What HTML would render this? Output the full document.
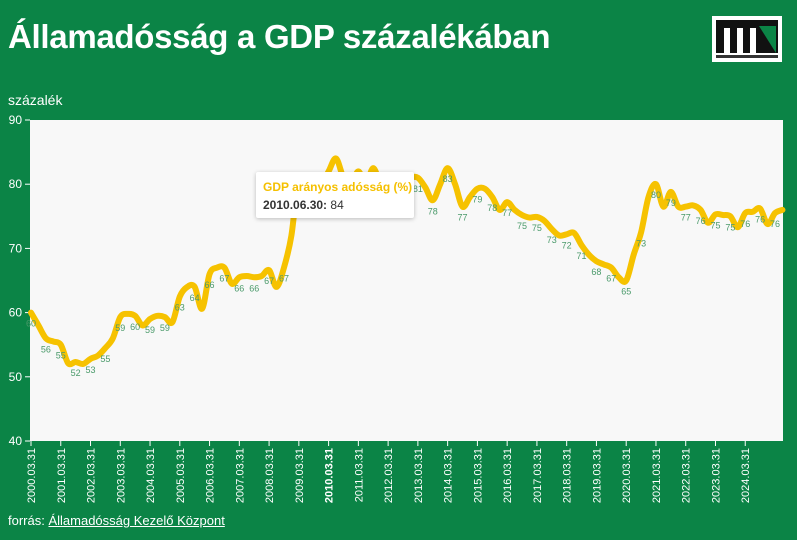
<!DOCTYPE html>
<html><head><meta charset="utf-8"><style>
body{margin:0;width:797px;height:540px;background:#0b8446;overflow:hidden;font-family:"Liberation Sans",sans-serif;position:relative}
#title{position:absolute;left:8px;top:18px;font-size:33px;font-weight:bold;color:#fff;letter-spacing:-0.3px}
#unit{position:absolute;left:8px;top:92px;font-size:14px;color:#fff}
#src{position:absolute;left:8px;top:513px;font-size:13px;color:#fff}
#src a{color:#fff;text-decoration:underline}
#logo{position:absolute;left:712px;top:16px;width:70px;height:46px;background:#fff}
#tip{position:absolute;left:256px;top:172px;width:158px;height:46px;background:#fff;box-shadow:0 1px 4px rgba(0,0,0,.25);border-radius:2px}
#tip .h{position:absolute;left:7px;top:8px;font-size:12px;font-weight:bold;color:#f5c000;white-space:nowrap}
#tip .v{position:absolute;left:7px;top:26px;font-size:12px;color:#333;white-space:nowrap}
</style></head><body>
<div id="title">Államadósság a GDP százalékában</div>
<div id="logo"><svg width="70" height="46"><rect x="4" y="4" width="62" height="33" fill="#111"/><rect x="12" y="12" width="6" height="25" fill="#fff"/><rect x="25" y="12" width="6" height="25" fill="#fff"/><rect x="38" y="12" width="6" height="25" fill="#fff"/><polygon points="47,10 64,10 64,37" fill="#0b8446"/><rect x="4" y="39" width="62" height="3" fill="#333"/></svg></div>
<div id="unit">százalék</div>
<svg id="chart" width="797" height="540" style="position:absolute;left:0;top:0"></svg>
<div id="tip"><div class="h">GDP arányos adósság (%)</div><div class="v"><b>2010.06.30:</b> 84</div></div>
<div id="src">forrás: <a>Államadósság Kezelő Központ</a></div>
<script>
const values=[60,58,56,55.5,55,52.1,52.3,52,52.8,53.3,54.5,56,59.3,59.8,59.5,58,59,59.5,59.3,58.5,62.5,64,64,60.6,66,67,67,64.5,65.5,65.7,65.5,65.7,66.6,64,67,72,81,79,80,80,82,84,81,80,82,80,82.5,80,80,80,80,81,81,79.5,77.5,80,82.5,80,76.5,78,79.3,79.3,78,76,77.2,76,75.2,74.8,74.9,74.3,73,72,72.2,72.4,70.5,69,68,67.5,67,65.5,65,69,72.5,78,80,76.5,78.8,76.5,76.5,76.7,76,74,75.3,75.2,75,73.3,75.5,75.7,76.2,73.8,75.5,76];
const yTicks=[40,50,60,70,80,90];
const years=[2000,2001,2002,2003,2004,2005,2006,2007,2008,2009,2010,2011,2012,2013,2014,2015,2016,2017,2018,2019,2020,2021,2022,2023,2024];
const NS='http://www.w3.org/2000/svg';
const svg=document.getElementById('chart');
const L=30,R=783,T=120,B=441;
const x=i=>31+i*7.44;
const y=v=>B-(v-40)/50*(B-T);
function mk(t,a,p){const e=document.createElementNS(NS,t);for(const k in a)e.setAttribute(k,a[k]);(p||svg).appendChild(e);return e;}
const bg=mk('rect',{x:L,y:T,width:R-L,height:B-T,fill:'#f8f8f8'});


yTicks.forEach(v=>{
 const t=mk('text',{x:22,y:y(v)+4,'text-anchor':'end',fill:'#fff','font-size':12,'font-family':'Liberation Sans'});t.textContent=v;
 
 
 mk('line',{x1:L-5,x2:L,y1:y(v),y2:y(v),stroke:'#fff'});
});
years.forEach((yr,k)=>{
 const xx=x(k*4);
 mk('line',{x1:xx,x2:xx,y1:B,y2:B+5,stroke:'#fff'});
 const t=mk('text',{transform:`translate(${xx+4},${B+7}) rotate(-90)`,'text-anchor':'end',fill:'#fff','font-size':11,'font-family':'Liberation Sans','font-weight':yr===2010?'bold':'normal'});
 t.textContent=yr+'.03.31';
 
 
});
const pts=values.map((v,i)=>[x(i),y(v)]);
let d='M'+pts[0][0]+','+pts[0][1];
for(let i=0;i<pts.length-1;i++){
 const p0=pts[Math.max(0,i-1)],p1=pts[i],p2=pts[i+1],p3=pts[Math.min(pts.length-1,i+2)];
 const c1=[p1[0]+(p2[0]-p0[0])/6,p1[1]+(p2[1]-p0[1])/6],c2=[p2[0]-(p3[0]-p1[0])/6,p2[1]-(p3[1]-p1[1])/6];
 d+=`C${c1[0]},${c1[1]} ${c2[0]},${c2[1]} ${p2[0]},${p2[1]}`;
}
const line=mk('path',{d:d,fill:'none',stroke:'#f6c200','stroke-width':6,'stroke-linejoin':'round','stroke-linecap':'round'});


values.forEach((v,i)=>{
 if(i%2)return;
 const t=mk('text',{x:x(i),y:y(v)+14,'text-anchor':'middle',fill:'#4a9a6a','font-size':9,'font-family':'Liberation Sans'});
 t.textContent=Math.round(v);
 
 
});
</script>
</body></html>
